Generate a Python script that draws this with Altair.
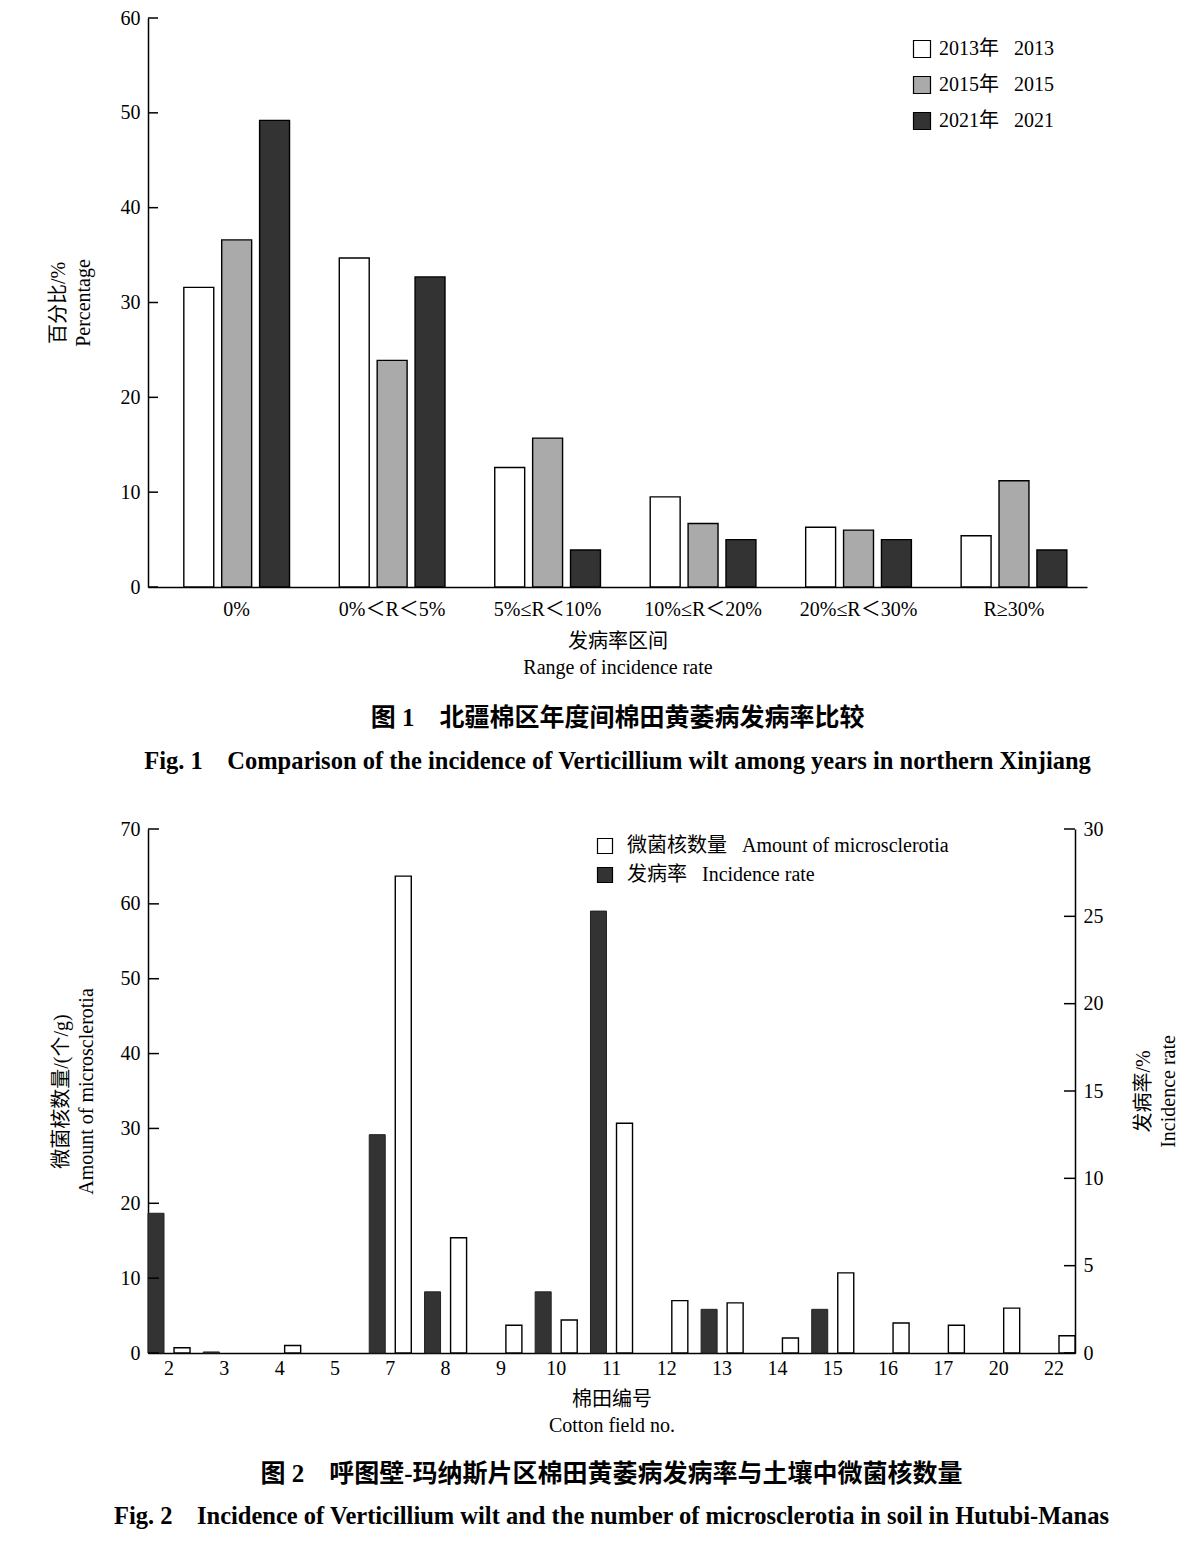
import altair as alt
import pandas as pd

FONT = "Liberation Serif, Noto Sans CJK SC"

# ---------------- Figure 1 data ----------------
ranges = ["0%", "0%＜R＜5%", "5%≤R＜10%", "10%≤R＜20%", "20%≤R＜30%", "R≥30%"]
years = ["2013年\u2002 2013", "2015年\u2002 2015", "2021年\u2002 2021"]
v2013 = [31.6, 34.7, 12.6, 9.5, 6.3, 5.4]
v2015 = [36.6, 23.9, 15.7, 6.7, 6.0, 11.2]
v2021 = [49.2, 32.7, 3.9, 5.0, 5.0, 3.9]
ticks1 = [0, 10, 20, 30, 40, 50, 60]

# ---------------- Figure 2 data ----------------
fields = ["2", "3", "4", "5", "7", "8", "9", "10", "11", "12", "13", "14", "15", "16", "17", "20", "22"]
micro = [0.7, 0, 1.0, 0, 63.7, 15.4, 3.7, 4.4, 30.7, 7.0, 6.7, 2.0, 10.7, 4.0, 3.7, 6.0, 2.3]
incid = [8.0, 0.06, 0, 0, 12.5, 3.5, 0, 3.5, 25.3, 0, 2.5, 0, 2.5, 0, 0, 0, 0]
ticks2_left = [0, 10, 20, 30, 40, 50, 60, 70]
ticks2_right = [0, 5, 10, 15, 20, 25, 30]
lab_micro = "微菌核数量\u2002 Amount of microsclerotia"
lab_inc = "发病率\u2002 Incidence rate"

# ---------------- Figure 1 ----------------
rows = []
for yr, vals in zip(years, [v2013, v2015, v2021]):
    for r, v in zip(ranges, vals):
        rows.append({"cat": r, "yr": yr, "value": v})
df1 = pd.DataFrame(rows)
dft1 = pd.DataFrame({"value": ticks1})

W1, H1 = 939, 569
y1 = alt.Y("value:Q", scale=alt.Scale(domain=[0, 60], nice=False),
           axis=alt.Axis(values=ticks1, ticks=False, grid=False, labelPadding=8,
                         title=["百分比/%", "Percentage"], titlePadding=27,
                         titleFontWeight="normal", titleLineHeight=25))

bars1 = alt.Chart(df1).mark_bar(stroke="black", strokeWidth=1.4).encode(
    x=alt.X("cat:N", sort=ranges,
            scale=alt.Scale(domain=ranges, paddingInner=0.32, paddingOuter=0.18, align=0.64),
            axis=alt.Axis(labelAngle=0, ticks=False, labelPadding=12,
                          title=["发病率区间", "Range of incidence rate"], titlePadding=12,
                          titleFontWeight="normal", titleLineHeight=26)),
    xOffset=alt.XOffset("yr:N", scale=alt.Scale(domain=years, paddingInner=0.21)),
    y=y1,
    fill=alt.Fill("yr:N",
                  scale=alt.Scale(domain=years, range=["#ffffff", "#aaaaaa", "#333333"]),
                  legend=alt.Legend(title=None, orient="none", legendX=764, legendY=21,
                                    symbolType="square", symbolSize=289,
                                    symbolStrokeColor="black", symbolStrokeWidth=1.2,
                                    labelFontSize=20, labelFont=FONT, labelColor="black",
                                    labelLimit=600, rowPadding=14, labelOffset=7, padding=0)),
)
tk1 = alt.Chart(dft1).mark_rule(color="black", strokeWidth=1.5).encode(
    y=y1, x=alt.value(0), x2=alt.value(10))

fig1 = alt.layer(bars1, tk1).properties(
    width=W1, height=H1,
    title=alt.TitleParams(
        text="图 1\u3000北疆棉区年度间棉田黄萎病发病率比较",
        subtitle="Fig. 1\u2003Comparison of the incidence of Verticillium wilt among years in northern Xinjiang",
        orient="bottom", anchor="middle", frame="group",
        font=FONT, fontSize=25, fontWeight="bold", color="black",
        subtitleFont=FONT, subtitleFontSize=24.5, subtitleFontWeight="bold",
        subtitleColor="black", subtitlePadding=19, offset=29))

# ---------------- Figure 2 ----------------
rows_m = [{"fld": f, "series": lab_micro, "value": v} for f, v in zip(fields, micro) if v > 0]
rows_i = [{"fld": f, "series": lab_inc, "value": v} for f, v in zip(fields, incid) if v > 0]
dfm = pd.DataFrame(rows_m)
dfi = pd.DataFrame(rows_i)

W2, H2 = 927, 524
x2 = alt.X("fld:N", sort=fields,
           scale=alt.Scale(domain=fields, paddingInner=0.24, paddingOuter=0),
           axis=alt.Axis(labelAngle=0, ticks=False, labelPadding=5,
                         title=["棉田编号", "Cotton field no."], titlePadding=11,
                         titleFontWeight="normal", titleLineHeight=26))
xo2 = alt.XOffset("series:N", scale=alt.Scale(domain=[lab_inc, lab_micro], paddingInner=0.385))
fill2 = alt.Fill("series:N",
                 scale=alt.Scale(domain=[lab_micro, lab_inc], range=["#ffffff", "#333333"]),
                 legend=alt.Legend(title=None, orient="none", legendX=447, legendY=7,
                                   symbolType="square", symbolSize=225,
                                   symbolStrokeColor="black", symbolStrokeWidth=1.2,
                                   labelFontSize=20, labelFont=FONT, labelColor="black",
                                   labelLimit=600, rowPadding=9, labelOffset=12, padding=0))

yl = alt.Y("value:Q", scale=alt.Scale(domain=[0, 70], nice=False),
           axis=alt.Axis(orient="left", values=ticks2_left, ticks=False, grid=False,
                         labelPadding=8, title=["微菌核数量/(个/g)", "Amount of microsclerotia"],
                         titlePadding=24, titleFontWeight="normal", titleLineHeight=25))
yr_ = alt.Y("value:Q", scale=alt.Scale(domain=[0, 30], nice=False),
            axis=alt.Axis(orient="right", values=ticks2_right, ticks=False, grid=False,
                          labelPadding=8, title=["发病率/%", "Incidence rate"], titleAngle=270,
                          titlePadding=25, titleFontWeight="normal", titleLineHeight=25))
yl_na = alt.Y("value:Q", scale=alt.Scale(domain=[0, 70], nice=False), axis=None)
yr_na = alt.Y("value:Q", scale=alt.Scale(domain=[0, 30], nice=False), axis=None)

bm = alt.Chart(dfm).mark_bar(stroke="black", strokeWidth=1.4).encode(
    x=x2, xOffset=xo2, y=yl, fill=fill2)
bi = alt.Chart(dfi).mark_bar(stroke="#222222", strokeWidth=1.0).encode(
    x=x2, xOffset=xo2, y=yr_, fill=fill2)
tkl = alt.Chart(pd.DataFrame({"value": ticks2_left})).mark_rule(color="black", strokeWidth=1.5).encode(
    y=yl_na, x=alt.value(0), x2=alt.value(11))
tkr = alt.Chart(pd.DataFrame({"value": ticks2_right})).mark_rule(color="black", strokeWidth=1.5).encode(
    y=yr_na, x=alt.value(W2 - 11), x2=alt.value(W2))

fig2 = alt.layer(bm, bi, tkl, tkr).resolve_scale(y="independent").properties(
    width=W2, height=H2,
    title=alt.TitleParams(
        text="图 2\u3000呼图壁-玛纳斯片区棉田黄萎病发病率与土壤中微菌核数量",
        subtitle="Fig. 2\u2003Incidence of Verticillium wilt and the number of microsclerotia in soil in Hutubi-Manas",
        orient="bottom", anchor="middle", frame="group",
        font=FONT, fontSize=25, fontWeight="bold", color="black",
        subtitleFont=FONT, subtitleFontSize=24.5, subtitleFontWeight="bold",
        subtitleColor="black", subtitlePadding=18, offset=27))

chart = alt.vconcat(fig1, fig2, spacing=45).resolve_scale(
    x="independent", y="independent", xOffset="independent", fill="independent"
).resolve_legend(fill="independent").properties(
    padding={"left": 40, "top": 0, "right": 5, "bottom": 5}
).configure(background="white").configure_view(stroke=None).configure_axis(
    domainColor="black", domainWidth=1.5, labelColor="black", titleColor="black",
    labelFont=FONT, titleFont=FONT, labelFontSize=20, titleFontSize=20
)

chart.save("out.html", embed_options={"renderer": "svg", "actions": False})
